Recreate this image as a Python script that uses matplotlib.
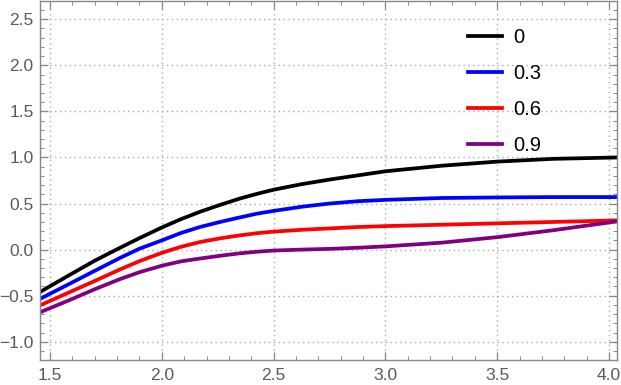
import numpy as np
import matplotlib
matplotlib.use('Agg')
import matplotlib.pyplot as plt
from matplotlib.ticker import MultipleLocator

plt.rcParams['font.family'] = ['Liberation Sans', 'DejaVu Sans']

# values
x = [1.455, 1.58, 1.70, 1.813, 1.9, 2.0, 2.085, 2.17, 2.26, 2.35, 2.425,
     2.5, 2.625, 2.75, 2.875, 3.0, 3.25, 3.5, 3.75, 4.036]
y_0 = [-0.46, -0.285, -0.12, 0.02, 0.125, 0.24, 0.33, 0.41, 0.485, 0.555,
       0.605, 0.65, 0.71, 0.76, 0.805, 0.85, 0.91, 0.955, 0.985, 1.0]
y_03 = [-0.535, -0.38, -0.23, -0.09, 0.01, 0.10, 0.18, 0.245, 0.30, 0.35,
        0.39, 0.42, 0.465, 0.50, 0.525, 0.54, 0.56, 0.566, 0.57, 0.57]
y_06 = [-0.605, -0.47, -0.34, -0.215, -0.125, -0.035, 0.03, 0.082, 0.122,
        0.155, 0.178, 0.195, 0.215, 0.23, 0.245, 0.255, 0.27, 0.285, 0.30,
        0.317]
y_09 = [-0.68, -0.555, -0.43, -0.32, -0.245, -0.175, -0.128, -0.097, -0.067,
        -0.04, -0.023, -0.01, 0.0, 0.008, 0.02, 0.035, 0.075, 0.135, 0.21,
        0.306]
labels = ['0', '0.3', '0.6', '0.9']
colors = ['black', '#0000ff', '#ff0000', '#800080']

fig = plt.figure(figsize=(6.21, 3.85), dpi=100)
ax = fig.add_axes([40/621, 25/385, 577/621, 359/385])

for ys, lab, c in zip([y_0, y_03, y_06, y_09], labels, colors):
    ax.plot(x, ys, color=c, lw=2.7, label=lab, solid_joinstyle='round')

ax.set_xlim(1.455, 4.036)
ax.set_ylim(-1.198, 2.698)
ax.xaxis.set_major_locator(MultipleLocator(0.5))
ax.xaxis.set_minor_locator(MultipleLocator(0.1))
ax.yaxis.set_major_locator(MultipleLocator(0.5))
ax.yaxis.set_minor_locator(MultipleLocator(0.1))
ax.xaxis.set_major_formatter(lambda v, p: f'{v:.1f}'.replace('-', '\u2212'))
ax.yaxis.set_major_formatter(lambda v, p: f'{v:.1f}'.replace('-', '\u2212'))

ax.grid(True, which='major', ls=(0, (1, 2.5)), color='#aaaaaa', lw=1)
ax.tick_params(which='both', direction='in', top=True, right=True,
               color='#888888', labelcolor='#5a5a5a', labelsize=12.5)
ax.tick_params(which='major', length=5.5, width=0.9)
ax.tick_params(which='minor', length=3, width=0.7)
ax.tick_params(axis='x', which='major', pad=6)
ax.tick_params(axis='y', which='major', pad=4.5)
for sp in ax.spines.values():
    sp.set_color('#888888')
    sp.set_linewidth(1)

ax.legend(loc='upper left', bbox_to_anchor=(468/621, 1 - 28/385),
          bbox_transform=fig.transFigure, frameon=False, fontsize=14.5,
          borderpad=0, borderaxespad=0, handlelength=1.7,
          handletextpad=0.55, labelspacing=0.85)

fig.savefig('out.png', dpi=100)
